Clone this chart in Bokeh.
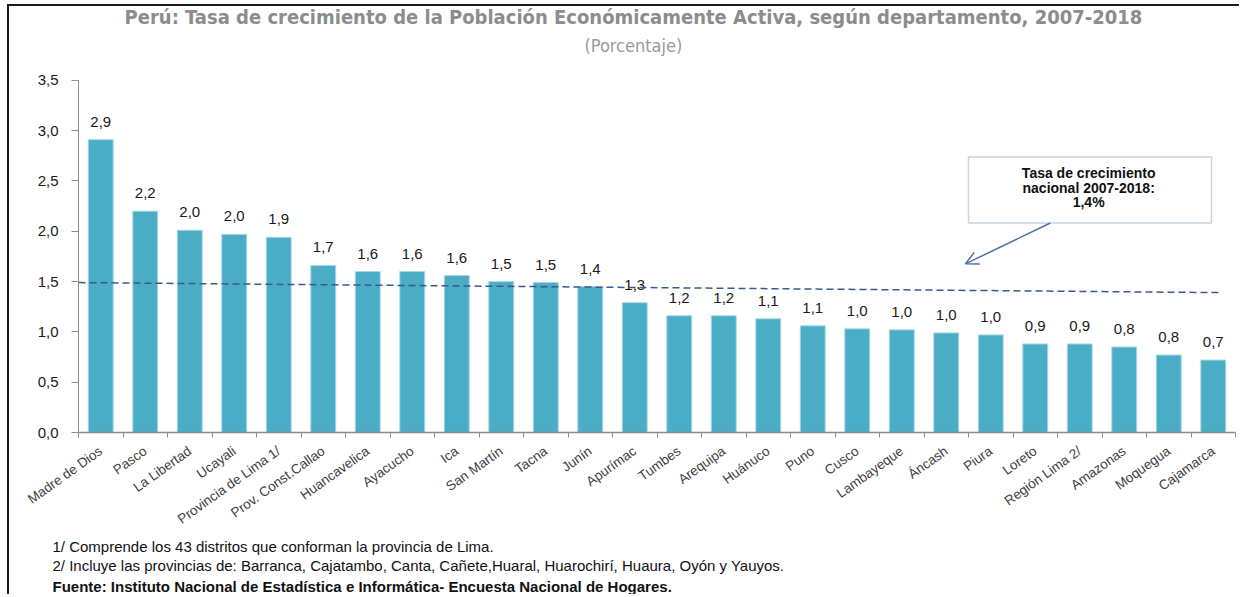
from bokeh.plotting import figure
from bokeh.models import (Label, Arrow, OpenHead, BoxAnnotation, LinearAxis, Title,
                          Range1d, FixedTicker, ColumnDataSource)
from bokeh.core.properties import value
from bokeh.embed import file_html
from bokeh.resources import INLINE

departamentos = ["Madre de Dios", "Pasco", "La Libertad", "Ucayali", "Provincia de Lima 1/",
                 "Prov. Const.Callao", "Huancavelica", "Ayacucho", "Ica", "San Martín", "Tacna",
                 "Junín", "Apurímac", "Tumbes", "Arequipa", "Huánuco", "Puno", "Cusco",
                 "Lambayeque", "Áncash", "Piura", "Loreto", "Región Lima 2/", "Amazonas",
                 "Moquegua", "Cajamarca"]
tasas = [2.91, 2.20, 2.01, 1.97, 1.94, 1.66, 1.60, 1.60, 1.56, 1.50, 1.49, 1.45, 1.29, 1.16,
         1.16, 1.13, 1.06, 1.03, 1.02, 0.99, 0.97, 0.88, 0.88, 0.85, 0.77, 0.72]
etiquetas = ["2,9", "2,2", "2,0", "2,0", "1,9", "1,7", "1,6", "1,6", "1,6", "1,5", "1,5", "1,4",
             "1,3", "1,2", "1,2", "1,1", "1,1", "1,0", "1,0", "1,0", "1,0", "0,9", "0,9", "0,8",
             "0,8", "0,7"]
y_ticks = [0.0, 0.5, 1.0, 1.5, 2.0, 2.5, 3.0, 3.5]
y_tick_labels = ["0,0", "0,5", "1,0", "1,5", "2,0", "2,5", "3,0", "3,5"]
linea_nacional = [1.49, 1.39]   # drawn reference line (start, end)

titulo = "Perú: Tasa de crecimiento de la Población Económicamente Activa, según departamento, 2007-2018"
subtitulo = "(Porcentaje)"
recuadro = ["Tasa de crecimiento", "nacional 2007-2018:", "1,4%"]
notas = ["1/ Comprende los 43 distritos  que conforman la provincia de Lima.",
         "2/ Incluye las provincias de: Barranca, Cajatambo, Canta, Cañete,Huaral, Huarochirí, Huaura, Oyón y Yauyos."]
fuente = "Fuente: Instituto Nacional de Estadística e Informática- Encuesta Nacional de Hogares."

ARIAL = "'Liberation Sans', Arial, sans-serif"
NARROW = "'Liberation Sans Narrow', 'Arial Narrow', 'DejaVu Sans Condensed', sans-serif"

n = len(departamentos)
centros = [i + 0.5 for i in range(n)]
limites = list(range(n + 1))
y_top = 3.5 * 427 / 353          # extra room above the axis for the titles

p = figure(x_range=Range1d(0, n), y_range=Range1d(0, y_top), width=1232, height=590,
           output_backend="svg", toolbar_location=None, x_axis_location=None,
           y_axis_location=None, min_border_left=69, min_border_right=6,
           min_border_top=0, min_border_bottom=0)
p.title.visible = False
p.outline_line_color = None
p.grid.visible = False
p.background_fill_color = "white"
p.border_fill_color = "white"
p.styles = {"margin-left": "7px", "margin-top": "4px",
            "border-top": "2px solid #1a1a1a", "border-left": "2px solid #1a1a1a"}

# y axis (limited to 0..3.5)
yax = LinearAxis(ticker=FixedTicker(ticks=y_ticks), bounds=(0, 3.5), axis_line_color="#8c8c8c",
                 major_tick_line_color="#8c8c8c", major_tick_in=0, major_tick_out=7,
                 minor_tick_line_color=None, major_label_standoff=13,
                 major_label_text_font=ARIAL, major_label_text_font_size="15px",
                 major_label_text_color="#1a1a1a")
yax.major_label_overrides = {t: l for t, l in zip(y_ticks, y_tick_labels)}
p.add_layout(yax, "left")

# x axis: names at bar centres, ticks (minor) at category boundaries
xax = LinearAxis(ticker=FixedTicker(ticks=centros, minor_ticks=limites),
                 axis_line_color="#8c8c8c", axis_line_width=1.5,
                 major_tick_line_color=None, major_tick_in=0, major_tick_out=0,
                 minor_tick_line_color="#8c8c8c", minor_tick_in=0, minor_tick_out=5,
                 major_label_orientation=0.62, major_label_standoff=12,
                 major_label_text_font=ARIAL, major_label_text_font_size="13.5px",
                 major_label_text_color="#404040")
xax.major_label_overrides = {c: d for c, d in zip(centros, departamentos)}
p.add_layout(xax, "below")

# footnotes (stacked below the axis)
for txt, st, so in zip(notas + [fuente], ["normal", "normal", "bold"], [0, 0, 4]):
    p.add_layout(Title(text=txt, align="left", offset=-26, standoff=so, text_font=ARIAL,
                       text_font_style=st, text_font_size="15px", text_color="#111111"),
                 "below")

# title and subtitle drawn inside the (taller) frame, above the y axis
p.add_layout(Label(x=12.47, y=(433 - 17) / 353 * 3.5, text=titulo, text_align="center",
                   text_baseline="middle", text_font=NARROW, text_font_style="bold",
                   text_font_size="20px", text_color="#8c8c8c"))
p.add_layout(Label(x=12.47, y=(433 - 45) / 353 * 3.5, text=subtitulo, text_align="center",
                   text_baseline="middle", text_font=NARROW, text_font_size="18px",
                   text_color="#9a9a9a"))

src = ColumnDataSource(dict(x=centros, top=tasas, lab=etiquetas))
p.vbar(x="x", top="top", width=0.56, source=src, fill_color="#4bacc6",
       line_color="#a9d8e6", line_width=1)
p.text(x="x", y="top", text="lab", source=src, text_align="center",
       text_baseline="alphabetic", y_offset=-18, text_font=value(ARIAL),
       text_font_size="15px", text_color="#1a1a1a")

# dashed national line
p.segment(x0=[0], y0=[linea_nacional[0]], x1=[25.66], y1=[linea_nacional[1]],
          line_color="#3b5a8c", line_width=1.5, line_dash="7 4")

# callout box
box = BoxAnnotation(left=20.0, right=25.46, top=2.737, bottom=2.082, fill_color="white",
                    fill_alpha=1, line_color="#4f6f9f", line_width=1.5)
p.add_layout(box)
for txt, yy in zip(recuadro, [2.578, 2.429, 2.290]):
    p.add_layout(Label(x=22.70, y=yy, text=txt, text_align="center", text_baseline="middle",
                       text_font=ARIAL, text_font_style="bold", text_font_size="14px",
                       text_color="#111111"))
p.add_layout(Arrow(x_start=21.84, y_start=2.082, x_end=19.93, y_end=1.676,
                   line_color="#4f6fa5", line_width=1.5,
                   end=OpenHead(size=13, line_color="#4f6fa5", line_width=1.5)))

open("out.html", "w").write(file_html(p, INLINE))
